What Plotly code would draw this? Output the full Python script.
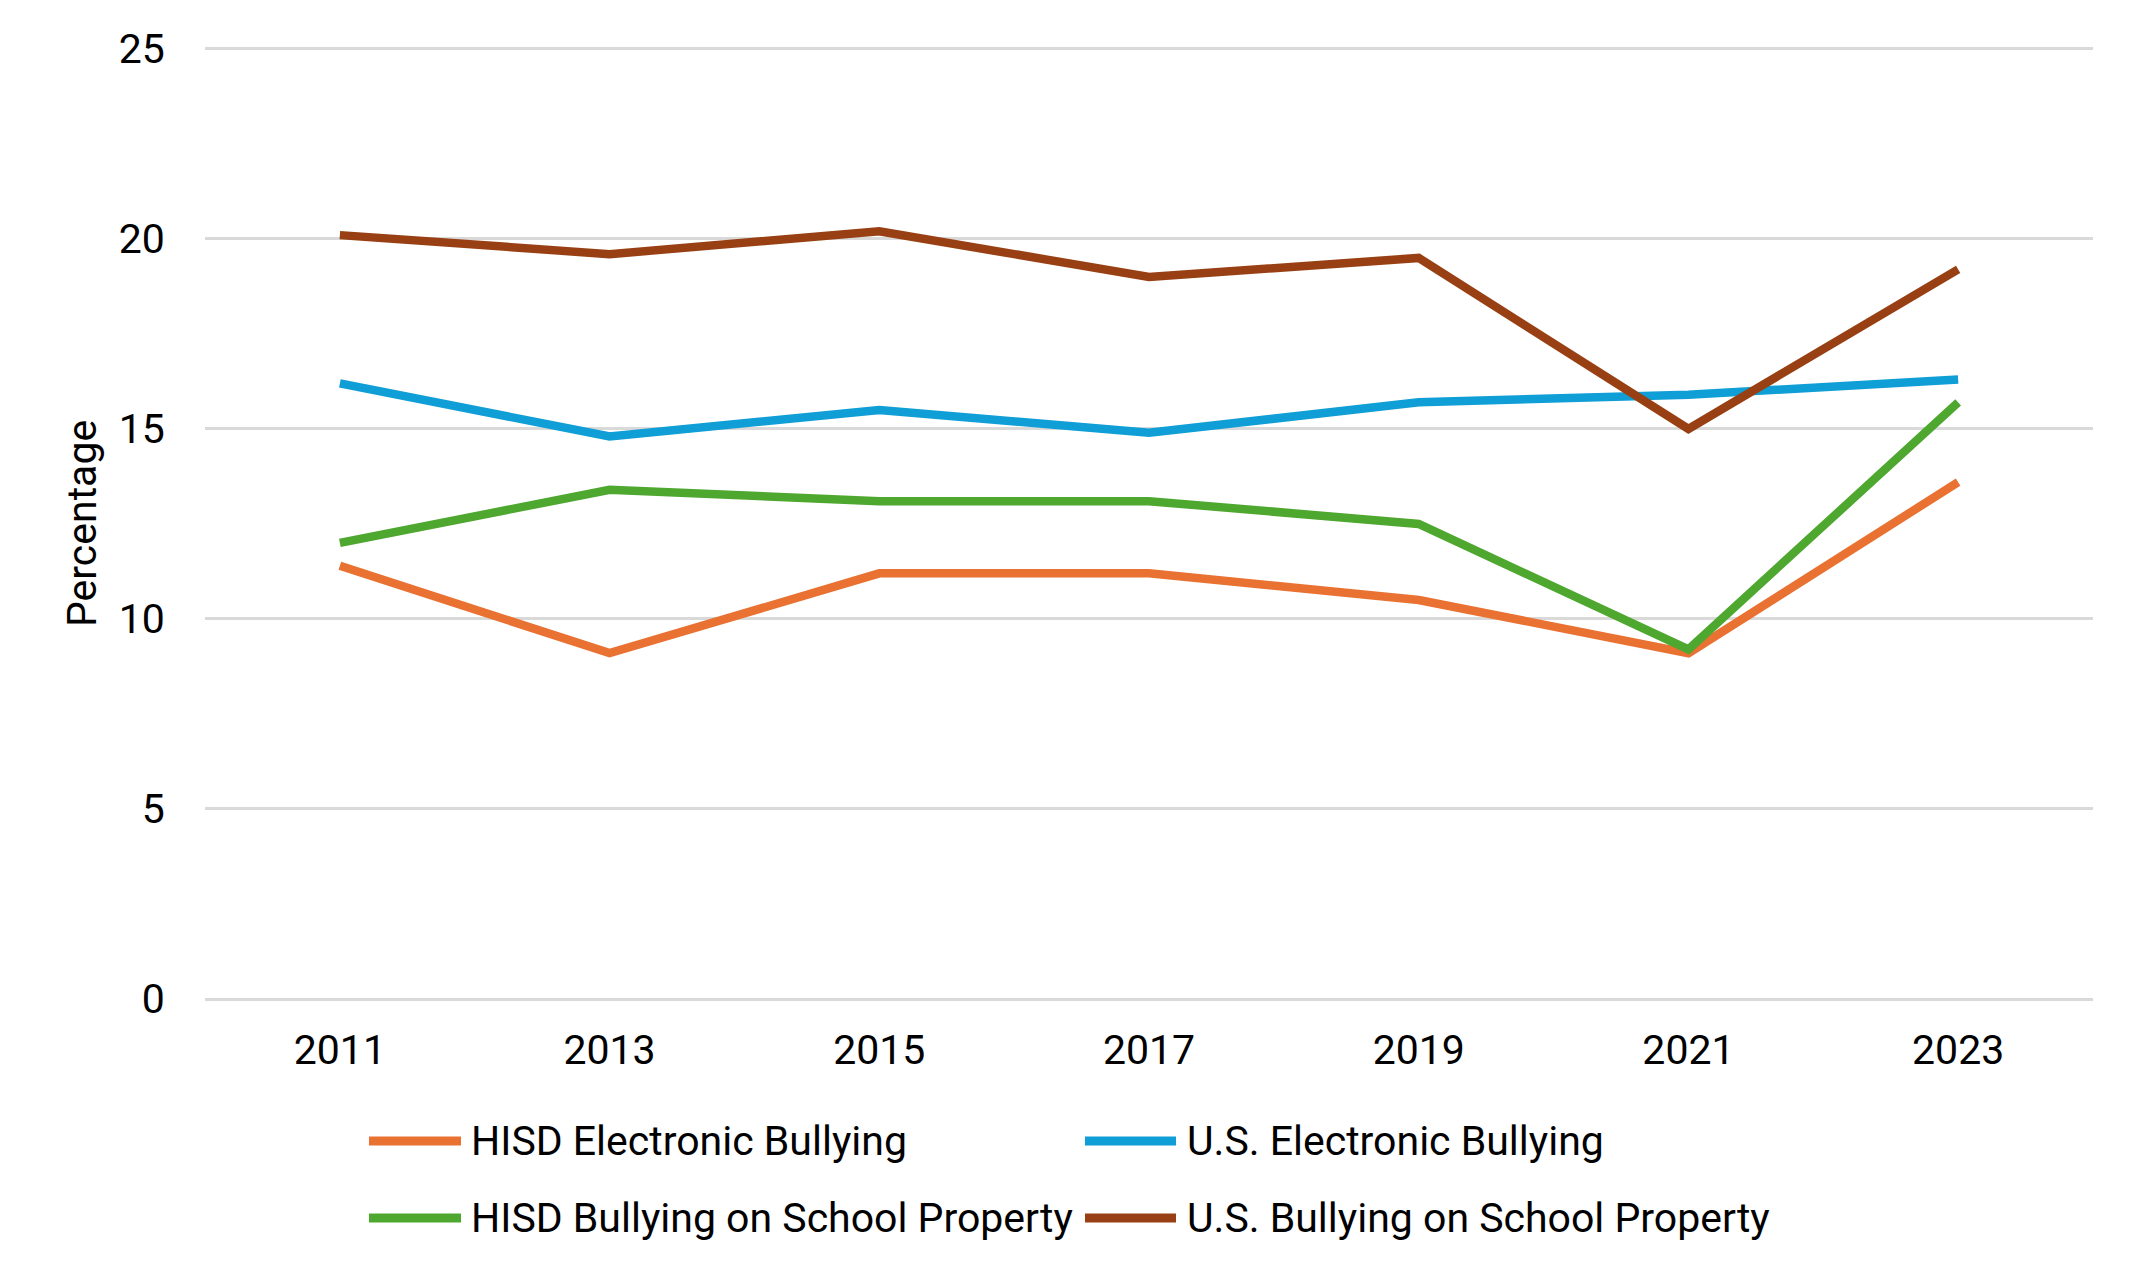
import plotly.graph_objects as go

# ---- data ----
years = ["2011", "2013", "2015", "2017", "2019", "2021", "2023"]
hisd_electronic = [11.4, 9.1, 11.2, 11.2, 10.5, 9.1, 13.6]
us_electronic = [16.2, 14.8, 15.5, 14.9, 15.7, 15.9, 16.3]
hisd_property = [12.0, 13.4, 13.1, 13.1, 12.5, 9.2, 15.7]
us_property = [20.1, 19.6, 20.2, 19.0, 19.5, 15.0, 19.2]

series_names = [
    "HISD Electronic Bullying",
    "U.S. Electronic Bullying",
    "HISD Bullying on School Property",
    "U.S. Bullying on School Property",
]
series_values = [hisd_electronic, us_electronic, hisd_property, us_property]
colors = ["#E97132", "#0F9ED5", "#4EA72E", "#984013"]
y_ticks = [0, 5, 10, 15, 20, 25]

# ---- layout geometry (pixels) ----
W, H = 2145, 1287
ML, MR, MT, MB = 205, 52, 47, 288
PW, PH = W - ML - MR, H - MT - MB
FONT = "Roboto, Arial, sans-serif"
FS = 41


def px_x(x):
    return (x - ML) / PW


def px_y(y):
    return (H - MB - y) / PH


fig = go.Figure()
for name, vals, col in zip(series_names, series_values, colors):
    fig.add_trace(go.Scatter(
        x=years, y=vals, name=name, mode="lines",
        line=dict(color=col, width=8.5),
        showlegend=False,
    ))

# ---- custom legend (2 x 2) ----
legend_rows = [1141, 1218]
legend_cols = [(369, 461, 469), (1085, 1176, 1185)]
shapes = []
annotations = []
for i, (name, col) in enumerate(zip(series_names, colors)):
    r, c = divmod(i, 2)
    x0, x1, xt = legend_cols[c]
    yy = px_y(legend_rows[r])
    shapes.append(dict(type="line", xref="paper", yref="paper",
                       x0=px_x(x0), x1=px_x(x1), y0=yy, y1=yy,
                       line=dict(color=col, width=9)))
    annotations.append(dict(xref="paper", yref="paper", x=px_x(xt), y=yy,
                            xanchor="left", yanchor="middle", showarrow=False,
                            text=name, font=dict(family=FONT, size=FS, color="#000000")))

# y-axis title
annotations.append(dict(xref="paper", yref="paper", x=px_x(82), y=0.5,
                        xanchor="center", yanchor="middle", showarrow=False,
                        textangle=-90, text="Percentage",
                        font=dict(family=FONT, size=FS, color="#000000")))

fig.update_layout(
    width=W, height=H,
    margin=dict(l=ML, r=MR, t=MT, b=MB, autoexpand=False),
    paper_bgcolor="white", plot_bgcolor="white",
    font=dict(family=FONT, size=FS, color="#000000"),
    shapes=shapes, annotations=annotations,
    showlegend=False,
)
fig.update_xaxes(
    type="category", range=[-0.5, 6.5], showgrid=False, showline=False,
    ticks="outside", ticklen=15, tickcolor="rgba(0,0,0,0)",
    tickfont=dict(family=FONT, size=FS, color="#000000"),
    automargin=False,
)
fig.update_yaxes(
    range=[0, 25.05], tickvals=y_ticks, ticktext=[str(v) for v in y_ticks],
    showgrid=True, gridcolor="#D9D9D9", gridwidth=2.5,
    zeroline=True, zerolinecolor="#D9D9D9", zerolinewidth=2.5,
    showline=False, ticks="outside", ticklen=31, tickcolor="rgba(0,0,0,0)",
    tickfont=dict(family=FONT, size=FS, color="#000000"),
    automargin=False,
)

fig.write_html("out.html")
